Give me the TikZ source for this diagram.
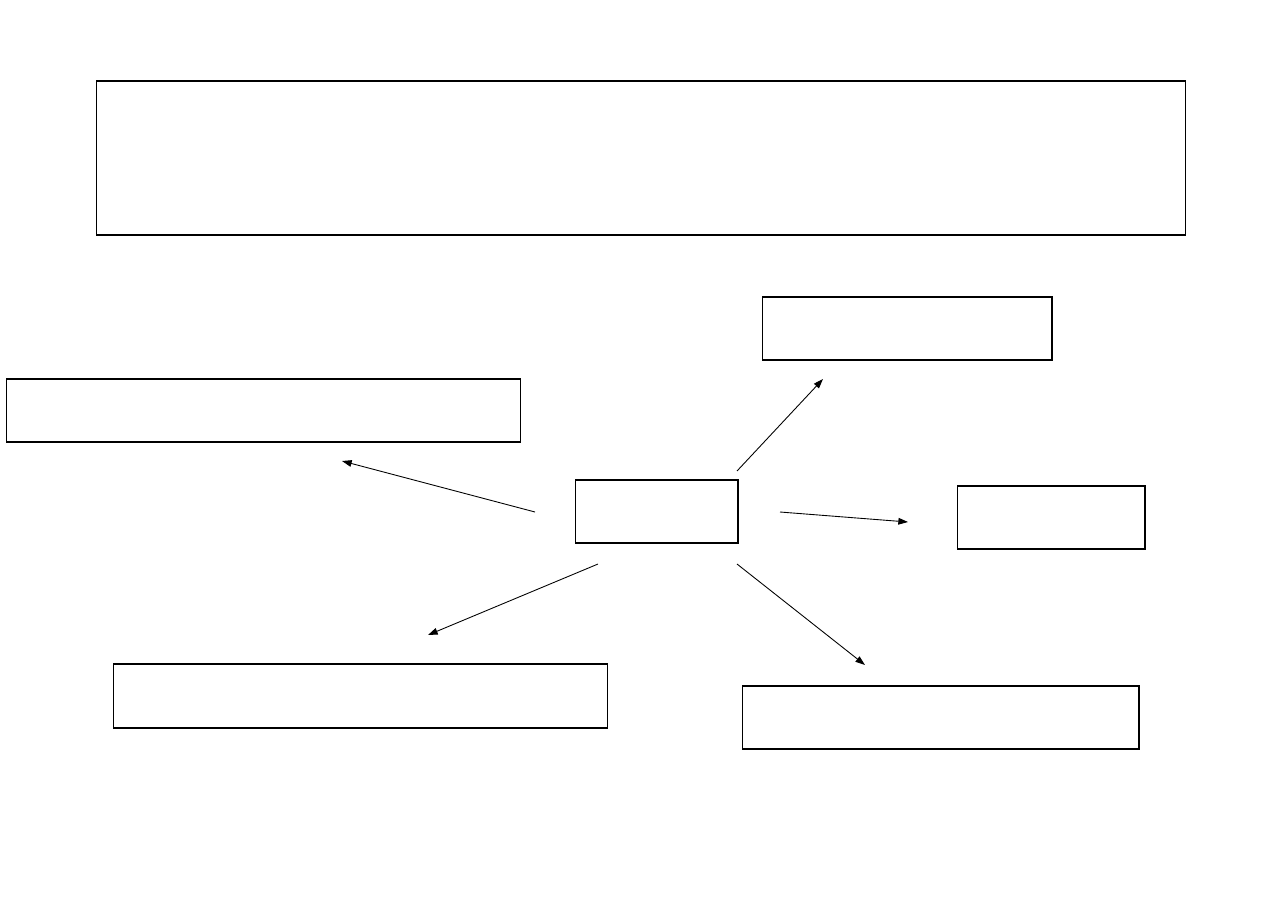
\documentclass[tikz,border=0pt]{standalone}
\usepackage{tikz}
\usetikzlibrary{arrows.meta,positioning}

\begin{document}
\begin{tikzpicture}[x=0.02cm,y=-0.02cm,>={Triangle[length=5.5pt,width=3.8pt]},
  box/.style={draw,rectangle,inner sep=0pt,outer sep=0pt,line width=0.6pt},
  link/.style={->,line width=0.5pt}]
\useasboundingbox (0,0) rectangle (1283,923);
% --- boxes ---
\node[box,minimum width=21.8cm,minimum height=3.08cm] (title) at (641,158) {};
\node[box,minimum width=5.8cm,minimum height=1.26cm] (upright) at (907,328.5) {};
\node[box,minimum width=10.3cm,minimum height=1.26cm] (left) at (263.5,410.5) {};
\node[box,minimum width=3.26cm,minimum height=1.26cm] (hub) at (656.5,511.5) {};
\node[box,minimum width=3.76cm,minimum height=1.26cm] (right) at (1051,517.5) {};
\node[box,minimum width=9.9cm,minimum height=1.28cm] (lowleft) at (360.5,696) {};
\node[box,minimum width=7.94cm,minimum height=1.26cm] (lowright) at (940.5,717.5) {};
% --- arrow ends ---
\foreach \n/\x/\y in {sUR/737/471,eUR/823/379,sL/535/512,eL/342/461,sR/780/512,eR/908/522,
  sLL/598/564,eLL/428/635,sLR/737/564,eLR/865/665}
  {\coordinate (\n) at (\x,\y);}
% --- arrows ---
\draw[link] (sUR) -- (eUR);
\draw[link] (sL) -- (eL);
\draw[link] (sR) -- (eR);
\draw[link] (sLL) -- (eLL);
\draw[link] (sLR) -- (eLR);
\end{tikzpicture}
\end{document}
